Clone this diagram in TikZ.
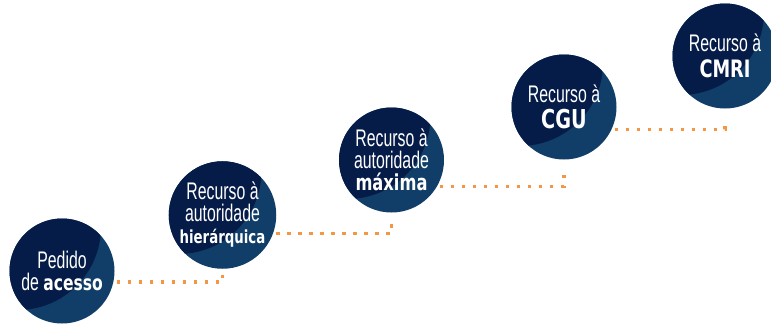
\documentclass[tikz,border=0pt]{standalone}
\usepackage{fontspec}
\newfontfamily\narrowfont{Liberation Sans}[FakeStretch=0.66]
\newfontfamily\heavyfont{DejaVu Sans}[FakeStretch=0.74]

\definecolor{navydark}{HTML}{061C48}
\definecolor{navylight}{HTML}{103E68}
\definecolor{laranja}{HTML}{F39646}

\newcommand{\forte}[2]{{\heavyfont\bfseries\fontsize{#1}{22}\selectfont #2}}

\tikzset{
	degrau/.style={circle, minimum size=105pt, inner sep=0pt, fill=navylight,
		text=white, align=center, font=\narrowfont\fontsize{24}{22}\selectfont,
		path picture={\fill[navydark] ([shift={(-44pt,44pt)}]path picture bounding box.center) circle (83pt);}},
	pontilhado/.style={draw=laranja, line width=3.3pt, dash pattern=on 3.3pt off 7.7pt, shorten <=3pt},
}

\begin{document}
\begin{tikzpicture}[x=1pt,y=-1pt]
	\useasboundingbox (0,0) rectangle (771,324);

	\node[degrau] (p1) at (62,271) {Pedido\\de \forte{21}{acesso}};
	\node[degrau] (p2) at (222.5,215) {Recurso à\\autoridade\\\forte{18}{hierárquica}};
	\node[degrau] (p3) at (391.5,160) {Recurso à\\autoridade\\\forte{22}{máxima}};
	\node[degrau] (p4) at (564,107) {Recurso à\\[4pt]\forte{26}{CGU}};
	\node[degrau] (p5) at (725,56) {Recurso à\\[4pt]\forte{24}{CMRI}};

	\draw[pontilhado] (p1.-12) -| ([yshift=-6pt]p2.south);
	\draw[pontilhado] (p2.-20) -| ([yshift=-6pt]p3.south);
	\draw[pontilhado] (p3.-30) -| ([yshift=-10pt]p4.south);
	\draw[pontilhado] (p4.-25) -| ([yshift=-10pt]p5.south);
\end{tikzpicture}
\end{document}
